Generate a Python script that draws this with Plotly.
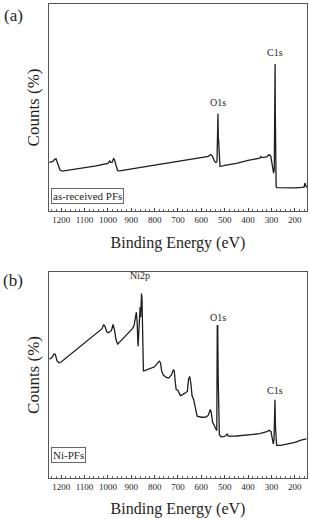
import plotly.graph_objects as go
from plotly.subplots import make_subplots

# ---- data: spectrum (a) as-received PFs ----
energy_a = [1250, 1235, 1228, 1222, 1215, 1205, 1195, 1150, 1100, 1050, 1000, 992, 988, 982, 976, 972,
            965, 958, 950, 900, 800, 700, 600, 570, 560, 553, 545, 538, 533, 531, 529, 527.5, 526, 523,
            520, 500, 450, 400, 350, 345, 340, 320, 310, 303, 298, 294, 291, 288, 286, 284.5, 283.5, 282,
            280, 278, 250, 200, 170, 160, 157, 154, 150]
counts_a = [23.5, 24.0, 25.0, 25.2, 23.0, 19.8, 19.3, 20.0, 20.8, 21.8, 23.0, 24.2, 23.5, 23.5, 25.3, 24.8,
            22.0, 19.5, 19.4, 20.3, 22.0, 23.8, 25.6, 26.4, 27.3, 26.5, 24.3, 23.4, 24.0, 47.0, 47.0, 35.0, 34.0, 27.0,
            21.5, 22.0, 23.0, 24.5, 25.5, 26.3, 25.8, 26.2, 27.2, 26.5, 22.0, 19.0, 18.3, 20.0, 71.0, 71.0, 46.0, 20.0,
            11.8, 11.3, 11.2, 11.2, 11.4, 11.6, 13.5, 12.0, 11.4]

# ---- data: spectrum (b) Ni-PFs ----
energy_b = [1250, 1240, 1230, 1225, 1218, 1210, 1200, 1150, 1100, 1050, 1025, 1018, 1012, 1005, 998, 985,
            978, 972, 965, 958, 950, 920, 895, 888, 882, 878, 875, 871, 868, 865, 862, 860, 858, 856,
            854, 852, 850, 848, 840, 820, 800, 790, 780, 775, 770, 763, 750, 740, 728, 720, 716, 712,
            708, 700, 690, 680, 668, 660, 655, 650, 645, 640, 633, 625, 618, 600, 580, 570, 562, 558,
            552, 545, 540, 534, 532, 530, 528, 526, 523, 515, 500, 490, 485, 450, 400, 350, 320, 310,
            302, 296, 292, 289, 287, 285, 283, 281, 278, 260, 230, 200, 170, 150]
counts_b = [57.6, 58.5, 60.3, 60.0, 57.0, 56.0, 56.3, 61.0, 65.5, 70.0, 72.5, 74.5, 73.5, 71.0, 70.5, 71.5,
            74.5, 72.0, 67.0, 65.0, 66.0, 69.5, 72.5, 74.0, 79.0, 80.5, 76.0, 64.0, 70.0, 80.0, 83.0, 78.0, 83.0, 89.5,
            87.0, 75.0, 60.0, 52.0, 52.3, 53.0, 54.0, 55.5, 56.7, 56.0, 52.0, 50.0, 48.8, 48.5, 50.0, 52.6, 52.0, 47.0,
            43.0, 42.5, 40.0, 40.5, 41.5, 42.0, 48.0, 49.3, 46.0, 40.0, 38.0, 33.0, 30.0, 29.5, 29.6, 30.5, 33.3, 32.0,
            27.0, 25.5, 24.0, 23.0, 74.0, 74.0, 48.0, 30.0, 21.0, 20.0, 20.2, 21.3, 20.3, 20.4, 20.8, 21.5, 22.5, 23.2,
            22.5, 19.0, 16.5, 19.0, 38.0, 38.0, 25.0, 17.0, 15.8, 15.8, 16.5, 17.3, 18.5, 19.0]

tick_vals = [1200, 1100, 1000, 900, 800, 700, 600, 500, 400, 300, 200]
tick_text = [str(v) for v in tick_vals]

FONT = "Liberation Serif, Times New Roman, DejaVu Serif, serif"
INK = "#1e1e1e"

fig = make_subplots(rows=2, cols=1, vertical_spacing=0.1)
fig.add_trace(go.Scatter(x=energy_a, y=counts_a, mode="lines",
                         line=dict(color=INK, width=1.3), showlegend=False), row=1, col=1)
fig.add_trace(go.Scatter(x=energy_b, y=counts_b, mode="lines",
                         line=dict(color=INK, width=1.3), showlegend=False), row=2, col=1)

xaxis_common = dict(range=[1252, 148], tickvals=tick_vals, ticktext=tick_text,
                    ticks="inside", ticklen=3, tickwidth=1, tickcolor="#444",
                    minor=dict(dtick=20, ticks="inside", ticklen=2, tickcolor="#666", tick0=0),
                    showgrid=False, zeroline=False, showline=True, linecolor="#555", linewidth=1,
                    mirror=True, tickfont=dict(family=FONT, size=9, color=INK),
                    title=dict(text="Binding Energy (eV)", font=dict(family=FONT, size=16, color=INK), standoff=12))
yaxis_common = dict(range=[0, 100], showticklabels=False, ticks="", showgrid=False, zeroline=False,
                    showline=True, linecolor="#555", linewidth=1, mirror=True,
                    title=dict(text="Counts (%)", font=dict(family=FONT, size=17, color=INK), standoff=4))

fig.update_layout(
    width=309, height=519, margin=dict(l=0, r=0, t=0, b=0),
    paper_bgcolor="white", plot_bgcolor="white",
    xaxis=dict(domain=[0.1586, 0.9935], **xaxis_common),
    xaxis2=dict(domain=[0.1586, 0.9935], **xaxis_common),
    yaxis=dict(domain=[0.5934, 0.9923], **yaxis_common),
    yaxis2=dict(domain=[0.0790, 0.4759], **yaxis_common),
)

def peak_label(text, x, y, xref, yref):
    fig.add_annotation(text=text, x=x, y=y, xref=xref, yref=yref, showarrow=False,
                       font=dict(family=FONT, size=10, color=INK), xanchor="center", yanchor="middle")

peak_label("C1s", 283, 76.8, "x", "y")
peak_label("O1s", 530, 52.2, "x", "y")
peak_label("Ni2p", 862, 98.2, "x2", "y2")
peak_label("O1s", 530, 77.8, "x2", "y2")
peak_label("C1s", 283, 42.7, "x2", "y2")

for txt, yy in [("(a)", 1 - 15 / 519), ("(b)", 1 - 280 / 519)]:
    fig.add_annotation(text=txt, x=13 / 309, y=yy, xref="paper", yref="paper", showarrow=False,
                       font=dict(family=FONT, size=17, color=INK), xanchor="center", yanchor="middle")

for txt, yy in [("as-received PFs", 1 - 204 / 519), ("Ni-PFs", 1 - 463 / 519)]:
    fig.add_annotation(text=txt, x=51 / 309, y=yy, xref="paper", yref="paper", showarrow=False,
                       font=dict(family=FONT, size=11, color=INK), xanchor="left", yanchor="bottom",
                       bordercolor="#666", borderwidth=1, borderpad=1, bgcolor="white")

fig.write_html("out.html")
